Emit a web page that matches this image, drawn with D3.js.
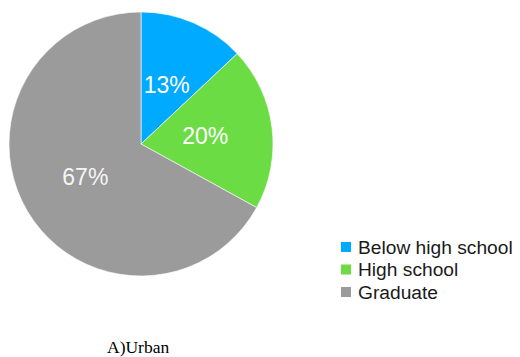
<!DOCTYPE html>
<html>
<head>
<meta charset="utf-8">
<script src="https://cdn.jsdelivr.net/npm/d3@7"></script>
<style>
  html, body { margin: 0; padding: 0; background: #fff; }
  svg { display: block; }
</style>
</head>
<body>
<svg id="chart" width="520" height="357"></svg>
<script>
// Education level shares, urban respondents
const categories = ["Below high school", "High school", "Graduate"];
const values = [13, 20, 67];
const colors = ["#00AAFF", "#6BDC44", "#9B9B9B"];
const caption = "A)Urban";

const svg = d3.select("#chart");
const cx = 141, cy = 144, radius = 132;

const pie = d3.pie().sort(null).value(d => d)(values);
const arc = d3.arc().innerRadius(0).outerRadius(radius);
const labelArc = d3.arc().innerRadius(radius * 0.49).outerRadius(radius * 0.49);

const g = svg.append("g").attr("transform", `translate(${cx},${cy})`);

g.selectAll("path.slice")
  .data(pie)
  .join("path")
  .attr("class", "slice")
  .attr("d", arc)
  .attr("fill", (d, i) => colors[i])
  .attr("stroke", "#fff")
  .attr("stroke-width", 0.6);

g.selectAll("text.pct")
  .data(pie)
  .join("text")
  .attr("class", "pct")
  .attr("transform", d => `translate(${labelArc.centroid(d)})`)
  .attr("text-anchor", "middle")
  .attr("dy", "0.36em")
  .attr("fill", "#fff")
  .attr("fill-opacity", (d, i) => i === 2 ? 0.92 : 1)
  .style("font-family", "'Liberation Sans', Arial, sans-serif")
  .style("font-size", "23px")
  .text(d => d.data + "%");

// Legend
const legend = svg.append("g").attr("transform", "translate(341,242)");
const rowStep = 22.5;
const rows = legend.selectAll("g.item")
  .data(categories)
  .join("g")
  .attr("class", "item")
  .attr("transform", (d, i) => `translate(0,${i * rowStep})`);

rows.append("rect")
  .attr("width", 10)
  .attr("height", 10)
  .attr("fill", (d, i) => colors[i]);

rows.append("text")
  .attr("x", 17)
  .attr("y", 5)
  .attr("dy", "0.36em")
  .attr("fill", "#1a1a1a")
  .style("font-family", "'Liberation Sans', Arial, sans-serif")
  .style("font-size", "19.2px")
  .text(d => d);

// Caption
svg.append("text")
  .attr("x", 107)
  .attr("y", 353)
  .attr("fill", "#000")
  .style("font-family", "'Liberation Serif', 'Times New Roman', serif")
  .style("font-size", "17.5px")
  .text(caption);
</script>
</body>
</html>
